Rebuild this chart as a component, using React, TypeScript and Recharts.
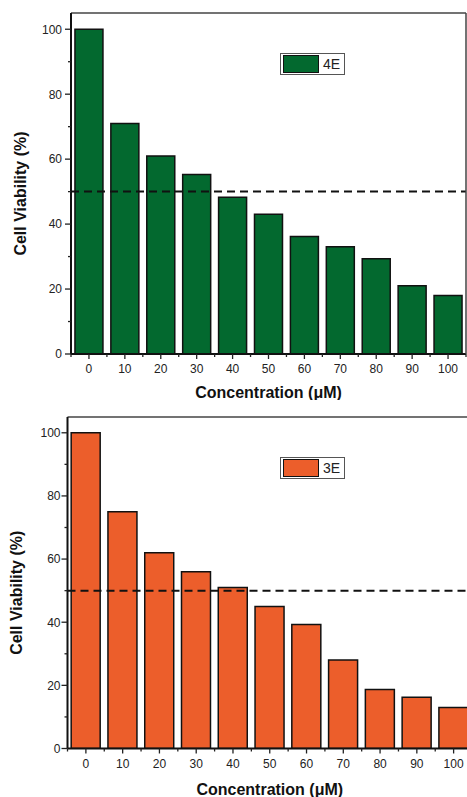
import React from 'react';
import { BarChart, Bar, XAxis, YAxis, ReferenceLine, Legend, Label } from 'recharts';

const concentrations = ['0', '10', '20', '30', '40', '50', '60', '70', '80', '90', '100'];
const viability4E = [100, 71, 61, 55.3, 48.3, 43, 36.2, 33, 29.3, 21, 18];
const viability3E = [100, 75, 62, 56, 51, 45, 39.3, 28, 18.7, 16.2, 13];
const yTicks = [0, 10, 20, 30, 40, 50, 60, 70, 80, 90, 100];
const yLabelTicks = [0, 20, 40, 60, 80, 100];
const yDomain = [0, 105];
const threshold = 50;

const FONT = '"Liberation Sans", Arial, Helvetica, sans-serif';
const GREEN = '#03692F';
const ORANGE = '#EC5E2B';

const buildData = (values: number[]) =>
  concentrations.map((c, i) => ({ conc: c, viability: values[i] }));

const YTick = (props: any) => {
  const { x, y, payload, margin } = props;
  const ax = x + margin;
  const major = yLabelTicks.includes(payload.value);
  return (
    <g>
      <line x1={ax} x2={ax - (major ? 6 : 3)} y1={y} y2={y} stroke="#222" strokeWidth={1.3} />
      {major && (
        <text x={x} y={y} dy="0.36em" textAnchor="end" fontSize={12} fontFamily={FONT} fill="#222">
          {payload.value}
        </text>
      )}
    </g>
  );
};

const XTick = (props: any) => {
  const { x, y, payload, half, labelDy, index } = props;
  const last = index === concentrations.length - 1;
  return (
    <g>
      <line x1={x} x2={x} y1={y} y2={y + 5} stroke="#222" strokeWidth={1.3} />
      <line x1={x - half} x2={x - half} y1={y} y2={y + 3} stroke="#222" strokeWidth={1.3} />
      {last && <line x1={x + half} x2={x + half} y1={y} y2={y + 3} stroke="#222" strokeWidth={1.3} />}
      <text x={x} y={y + labelDy} dy="0.36em" textAnchor="middle" fontSize={12} fontFamily={FONT} fill="#222">
        {payload.value}
      </text>
    </g>
  );
};

const LegendBox = (props: any) => {
  const { payload, fallbackColor, fallbackName } = props;
  const item = payload && payload[0];
  const color = (item && item.color) || fallbackColor;
  const name = (item && item.value) || fallbackName;
  return (
    <div
      style={{
        display: 'flex',
        alignItems: 'center',
        height: 20,
        border: '1px solid #555',
        background: '#fff',
        padding: '0 4px 0 2px',
        boxSizing: 'content-box',
      }}
    >
      <div style={{ width: 34, height: 16, background: color, border: '1.5px solid #111' }} />
      <span style={{ marginLeft: 4, fontFamily: FONT, fontSize: 14, color: '#222', lineHeight: '20px' }}>
        {name}
      </span>
    </div>
  );
};

type PanelCfg = {
  width: number;
  height: number;
  marginTop: number;
  yAxisWidth: number;
  xAxisHeight: number;
  tickMargin: number;
  xLabelDy: number;
  legendLeft: number;
  legendTop: number;
  yTitleX: number;
  yTitleShift: number;
  xTitleDy: number;
  gap: string;
};

const Panel = ({ values, name, color, cfg }: { values: number[]; name: string; color: string; cfg: PanelCfg }) => {
  const data = buildData(values);
  const plotWidth = cfg.width - cfg.yAxisWidth - 1;
  const half = plotWidth / concentrations.length / 2;
  return (
    <BarChart
      width={cfg.width}
      height={cfg.height}
      data={data}
      margin={{ top: cfg.marginTop, right: 0, bottom: 0, left: 0 }}
      barCategoryGap={cfg.gap}
    >
      <XAxis
        dataKey="conc"
        height={cfg.xAxisHeight}
        interval={0}
        tickLine={false}
        tickSize={0}
        tickMargin={0}
        axisLine={{ stroke: '#111', strokeWidth: 2 }}
        tick={<XTick half={half} labelDy={cfg.xLabelDy} />}
      >
        <Label
          content={(p: any) => {
            const vb = p.viewBox || {};
            return (
              <text
                x={(vb.x ?? cfg.yAxisWidth) + (vb.width ?? plotWidth) / 2}
                y={(vb.y ?? 0) + cfg.xTitleDy}
                textAnchor="middle"
                fontSize={16}
                fontWeight="bold"
                fontFamily={FONT}
                fill="#111"
              >
                Concentration (μM)
              </text>
            );
          }}
        />
      </XAxis>
      <YAxis
        domain={yDomain}
        ticks={yTicks}
        interval={0}
        width={cfg.yAxisWidth}
        tickLine={false}
        tickSize={0}
        tickMargin={cfg.tickMargin}
        axisLine={{ stroke: '#111', strokeWidth: 2 }}
        tick={<YTick margin={cfg.tickMargin} />}
        allowDataOverflow
      >
        <Label
          content={(p: any) => {
            const vb = p.viewBox || {};
            const cx = cfg.yTitleX;
            const cy = (vb.y ?? cfg.marginTop) + (vb.height ?? 340) / 2 + cfg.yTitleShift;
            return (
              <text
                x={cx}
                y={cy}
                dy="0.36em"
                transform={`rotate(-90 ${cx} ${cy})`}
                textAnchor="middle"
                fontSize={16}
                fontWeight="bold"
                fontFamily={FONT}
                fill="#111"
              >
                Cell Viability (%)
              </text>
            );
          }}
        />
      </YAxis>
      <YAxis
        yAxisId="frame"
        orientation="right"
        domain={yDomain}
        width={1}
        tick={false}
        tickLine={false}
        axisLine={{ stroke: '#444', strokeWidth: 1.5 }}
      />
      <Legend
        layout="vertical"
        verticalAlign="middle"
        align="center"
        content={<LegendBox fallbackColor={color} fallbackName={name} />}
        wrapperStyle={{ left: cfg.legendLeft, top: cfg.legendTop, width: 'auto', height: 'auto' }}
      />
      <Bar
        dataKey="viability"
        name={name}
        fill={color}
        stroke="#111"
        strokeWidth={1.5}
        isAnimationActive={false}
      />
      <ReferenceLine y={yDomain[1]} stroke="#444" strokeWidth={1.5} />
      <ReferenceLine y={threshold} stroke="#111" strokeWidth={2} strokeDasharray="8 5" />
    </BarChart>
  );
};

const topCfg: PanelCfg = {
  width: 467,
  height: 400,
  marginTop: 13,
  yAxisWidth: 71,
  xAxisHeight: 46,
  tickMargin: 9,
  xLabelDy: 14.5,
  legendLeft: 280,
  legendTop: 53,
  yTitleX: 20,
  yTitleShift: 10,
  xTitleDy: 43.5,
  gap: '11%',
};

const bottomCfg: PanelCfg = {
  width: 473,
  height: 397,
  marginTop: 17,
  yAxisWidth: 67.5,
  xAxisHeight: 48.5,
  tickMargin: 7,
  xLabelDy: 15.5,
  legendLeft: 280,
  legendTop: 57,
  yTitleX: 16,
  yTitleShift: 10,
  xTitleDy: 46,
  gap: '10%',
};

export default function App() {
  return (
    <div
      style={{
        position: 'absolute',
        left: 0,
        top: 0,
        width: 467,
        height: 797,
        overflow: 'hidden',
        background: '#fff',
      }}
    >
      <div style={{ position: 'absolute', left: 0, top: 0 }}>
        <Panel values={viability4E} name="4E" color={GREEN} cfg={topCfg} />
      </div>
      <div style={{ position: 'absolute', left: 0, top: 400 }}>
        <Panel values={viability3E} name="3E" color={ORANGE} cfg={bottomCfg} />
      </div>
    </div>
  );
}
